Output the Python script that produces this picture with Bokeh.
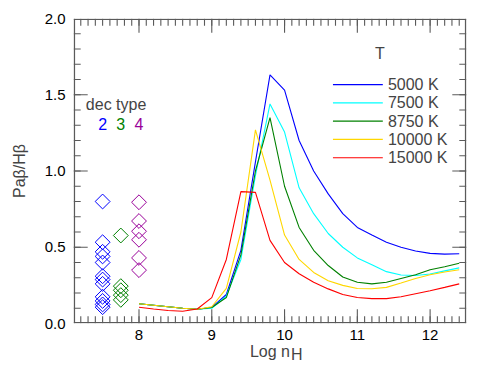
import numpy as np
from bokeh.plotting import figure
from bokeh.models import (Range1d, LinearAxis, SingleIntervalTicker, NumeralTickFormatter,
                          CustomJSTickFormatter, Label)
from bokeh.embed import file_html
from bokeh.resources import INLINE

# ---- data ----
log_nh = [8.0, 8.2, 8.4, 8.6, 8.8, 9.0, 9.2, 9.4, 9.6, 9.8, 10.0, 10.2, 10.4, 10.6,
          10.8, 11.0, 11.2, 11.4, 11.6, 11.8, 12.0, 12.2, 12.4]
ratio_5000 = [0.13, 0.12, 0.11, 0.10, 0.093, 0.105, 0.19, 0.48, 1.06, 1.63, 1.53, 1.20, 1.00,
              0.85, 0.72, 0.63, 0.58, 0.533, 0.50, 0.475, 0.46, 0.455, 0.457]
ratio_7500 = [0.13, 0.12, 0.11, 0.10, 0.093, 0.10, 0.18, 0.42, 0.97, 1.44, 1.255, 0.89, 0.72,
              0.59, 0.50, 0.43, 0.385, 0.34, 0.318, 0.315, 0.325, 0.345, 0.365]
ratio_8750 = [0.13, 0.12, 0.11, 0.10, 0.093, 0.105, 0.17, 0.45, 1.00, 1.35, 0.90, 0.63, 0.48,
              0.38, 0.305, 0.27, 0.26, 0.27, 0.295, 0.32, 0.352, 0.372, 0.395]
ratio_10000 = [0.13, 0.12, 0.11, 0.10, 0.093, 0.11, 0.23, 0.60, 1.27, 0.94, 0.58, 0.42, 0.335,
               0.28, 0.25, 0.23, 0.228, 0.237, 0.265, 0.295, 0.32, 0.338, 0.352]
ratio_15000 = [0.107, 0.095, 0.085, 0.08, 0.095, 0.17, 0.42, 0.865, 0.86, 0.545, 0.40, 0.326,
               0.27, 0.227, 0.19, 0.17, 0.163, 0.163, 0.175, 0.195, 0.215, 0.237, 0.26]
temp_labels = ["5000 K", "7500 K", "8750 K", "10000 K", "15000 K"]
line_colors = ["#0000ff", "#00ffff", "#008000", "#ffd700", "#ff0000"]

dec_types = ["2", "3", "4"]
dec_x = [7.5, 7.75, 8.0]
dec_colors = ["#0000ff", "#008000", "#990099"]
dec2_y = [0.80, 0.533, 0.47, 0.44, 0.40, 0.31, 0.288, 0.26, 0.175, 0.148, 0.125, 0.107]
dec3_y = [0.577, 0.245, 0.218, 0.186, 0.155]
dec4_y = [0.795, 0.672, 0.605, 0.549, 0.43, 0.35]

X0, X1, Y0, Y1 = 7.1, 12.5, 0.0, 2.0
FW, FH = 393, 305
FONT = "Liberation Sans"
AX = "#5a5a5a"

p = figure(frame_width=FW, frame_height=FH, x_range=Range1d(X0, X1),
           y_range=Range1d(Y0, Y1), output_backend="svg", toolbar_location=None,
           x_axis_type=None, y_axis_type=None,
           min_border_left=73, min_border_right=24, min_border_top=18, min_border_bottom=44)
p.grid.visible = False
p.outline_line_color = None


def style_axis(ax):
    ax.axis_line_color = None
    ax.major_tick_line_color = None
    ax.minor_tick_line_color = None
    ax.major_tick_in = 0
    ax.major_tick_out = 0
    ax.minor_tick_in = 0
    ax.minor_tick_out = 0
    ax.major_label_text_font = FONT
    ax.major_label_text_color = "black"
    ax.major_label_text_font_size = "15px"


blank = CustomJSTickFormatter(code="return ''")
NB = "\u00a0"

xb = LinearAxis(ticker=SingleIntervalTicker(interval=1, num_minor_ticks=10))
style_axis(xb)
xb.major_label_standoff = 6
xb.axis_label = "Log n\n" + NB * 12 + "H"
xb.axis_label_text_font = FONT
xb.axis_label_text_font_size = "16px"
xb.axis_label_text_font_style = "normal"
xb.axis_label_text_line_height = 0.22
xb.axis_label_standoff = 0
p.add_layout(xb, "below")

yl = LinearAxis(ticker=SingleIntervalTicker(interval=0.5, num_minor_ticks=5),
                formatter=NumeralTickFormatter(format="0.0"))
style_axis(yl)
yl.major_label_standoff = 8
yl.axis_label = "Paβ/Hβ"
yl.axis_label_text_font = FONT
yl.axis_label_text_font_size = "16px"
yl.axis_label_text_font_style = "normal"
yl.axis_label_standoff = 14
p.add_layout(yl, "left")

xt = LinearAxis(ticker=SingleIntervalTicker(interval=1, num_minor_ticks=10), formatter=blank)
style_axis(xt)
xt.major_label_standoff = 0
p.add_layout(xt, "above")

yr = LinearAxis(ticker=SingleIntervalTicker(interval=0.5, num_minor_ticks=5), formatter=blank)
style_axis(yr)
yr.major_label_standoff = 0
p.add_layout(yr, "right")

# ---- curves ----
series = [ratio_5000, ratio_7500, ratio_8750, ratio_10000, ratio_15000]
for ys, col in zip(series, line_colors):
    p.line(log_nh, ys, line_color=col, line_width=1.1)

for xv, ys, col in zip(dec_x, [dec2_y, dec3_y, dec4_y], dec_colors):
    p.scatter([xv] * len(ys), ys, marker="square", angle=np.pi / 4, size=10.5,
              fill_color=None, line_color=col, line_width=1)

# ---- legend (sample bars + labels) ----
LEG_X0, LEG_X1, LEG_TX = 10.665, 11.35, 11.42
LEG_TOP, LEG_STEP = 1.567, 0.12
for i, (lab, col) in enumerate(zip(temp_labels, line_colors)):
    yc = LEG_TOP - i * LEG_STEP
    p.quad(left=LEG_X0, right=LEG_X1, bottom=yc - 0.6 * (Y1 - Y0) / FH,
           top=yc + 0.6 * (Y1 - Y0) / FH, fill_color=col, line_color=None)
    p.add_layout(Label(x=LEG_TX, y=yc, text=lab, text_align="left", text_baseline="middle",
                       text_font=FONT, text_font_size="16px"))

# ---- frame and inward ticks as thin filled bars, drawn last, kept just inside the frame ----
dx = (X1 - X0) / FW   # data units per pixel
dy = (Y1 - Y0) / FH
in_x0, in_x1 = X0 + 0.2 * dx, X1 - 0.2 * dx
in_y0, in_y1 = Y0 + 0.2 * dy, Y1 - 0.2 * dy
xmaj = [8.0, 9.0, 10.0, 11.0, 12.0]
xmin = [round(v, 3) for v in np.arange(7.2, 12.5, 0.1)]
ymaj = [0.5, 1.0, 1.5]
ymin = [round(v, 3) for v in np.arange(0.1, 2.0, 0.1)]
for xs, ln in [(xmin, 7), (xmaj, 14)]:
    for xv in xs:
        p.quad(left=xv - 0.55 * dx, right=xv + 0.55 * dx, bottom=in_y0,
               top=in_y0 + ln * dy, fill_color=AX, line_color=None)
        p.quad(left=xv - 0.55 * dx, right=xv + 0.55 * dx, bottom=in_y1 - ln * dy,
               top=in_y1, fill_color=AX, line_color=None)
for ys, ln in [(ymin, 7), (ymaj, 14)]:
    for yv in ys:
        p.quad(left=in_x0, right=in_x0 + ln * dx, bottom=yv - 0.55 * dy,
               top=yv + 0.55 * dy, fill_color=AX, line_color=None)
        p.quad(left=in_x1 - ln * dx, right=in_x1, bottom=yv - 0.55 * dy,
               top=yv + 0.55 * dy, fill_color=AX, line_color=None)
p.quad(left=in_x0, right=in_x0 + 1.4 * dx, bottom=in_y0, top=in_y1, fill_color=AX, line_color=None)
p.quad(left=in_x1 - 1.4 * dx, right=in_x1, bottom=in_y0, top=in_y1, fill_color=AX, line_color=None)
p.quad(left=in_x0, right=in_x1, bottom=in_y0, top=in_y0 + 1.4 * dy, fill_color=AX, line_color=None)
p.quad(left=in_x0, right=in_x1, bottom=in_y1 - 1.4 * dy, top=in_y1, fill_color=AX, line_color=None)

p.add_layout(Label(x=11.31, y=1.77, text="T", text_align="center", text_baseline="middle",
                   text_font=FONT, text_font_size="16px"))
p.add_layout(Label(x=7.27, y=1.436, text="dec type", text_align="left",
                   text_baseline="middle", text_font=FONT, text_font_size="16px"))
for xv, t, col in zip(dec_x, dec_types, dec_colors):
    p.add_layout(Label(x=xv, y=1.31, text=t, text_align="center", text_baseline="middle",
                       text_font=FONT, text_font_size="16px", text_color=col))

open("out.html", "w").write(file_html(p, INLINE))
